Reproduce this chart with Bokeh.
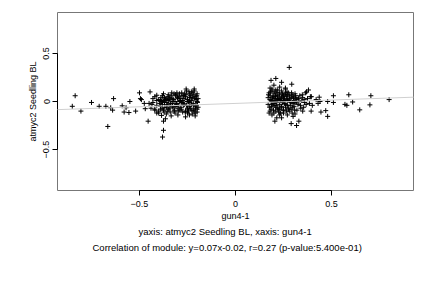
from bokeh.plotting import figure
from bokeh.models import Range1d, Slope, Title, FixedTicker
from bokeh.embed import file_html
from bokeh.resources import INLINE

# x values (gun4-1) and y values (atmyc2 Seedling BL)
gun4_1 = [
    # left sparse
    -0.85, -0.835, -0.805, -0.75, -0.71, -0.675, -0.65, -0.665, -0.64, -0.635,
    -0.59, -0.58, -0.57, -0.555, -0.55, -0.52, -0.50, -0.495, -0.49, -0.475,
    -0.47, -0.455, -0.445, -0.435, -0.42, -0.41, -0.40, -0.39, -0.385, -0.375,
    -0.375, -0.38, -0.257,
    # left dense
    -0.21, -0.22, -0.20, -0.23, -0.24, -0.25, -0.26, -0.21, -0.22, -0.20,
    -0.23, -0.24, -0.25, -0.27, -0.28, -0.29, -0.30, -0.31, -0.32, -0.33,
    -0.34, -0.35, -0.36, -0.37, -0.38, -0.39, -0.40, -0.41, -0.42, -0.43,
    -0.44, -0.20, -0.21, -0.22, -0.23, -0.24, -0.25, -0.26, -0.27, -0.28,
    -0.29, -0.30, -0.31, -0.32, -0.33, -0.34, -0.35, -0.36, -0.37, -0.38,
    -0.39, -0.40, -0.41, -0.42, -0.43, -0.45, -0.205, -0.215, -0.225, -0.235,
    -0.245, -0.255, -0.265, -0.275, -0.285, -0.295, -0.305, -0.315, -0.325, -0.335,
    -0.345, -0.355, -0.365, -0.375, -0.385, -0.395, -0.205, -0.215, -0.225, -0.235,
    -0.245, -0.255, -0.265, -0.275, -0.285, -0.295, -0.305, -0.315, -0.325, -0.335,
    -0.345, -0.355, -0.365, -0.375, -0.215, -0.195, -0.195, -0.20, -0.21, -0.26,
    -0.30, -0.24,
    -0.198, -0.202, -0.208, -0.212, -0.218, -0.222, -0.228, -0.232, -0.238, -0.242,
    -0.248, -0.252, -0.258, -0.262, -0.268, -0.272, -0.278, -0.282, -0.288, -0.292,
    -0.298, -0.302, -0.308, -0.312, -0.318, -0.322, -0.328, -0.332, -0.338, -0.342,
    -0.348, -0.352, -0.358, -0.362, -0.368, -0.372, -0.378, -0.382, -0.388, -0.41,
    # right dense
    0.18, 0.19, 0.20, 0.18, 0.21, 0.22, 0.19, 0.20, 0.21, 0.22,
    0.23, 0.24, 0.25, 0.18, 0.19, 0.20, 0.21, 0.22, 0.23, 0.24,
    0.25, 0.26, 0.27, 0.28, 0.29, 0.30, 0.31, 0.32, 0.17, 0.17,
    0.175, 0.185, 0.195, 0.205, 0.215, 0.225, 0.235, 0.245, 0.255, 0.265,
    0.275, 0.285, 0.295, 0.305, 0.315, 0.325, 0.335, 0.345, 0.355, 0.365,
    0.375, 0.385, 0.18, 0.19, 0.20, 0.21, 0.22, 0.23, 0.24, 0.25,
    0.26, 0.27, 0.28, 0.29, 0.30, 0.31, 0.33, 0.34, 0.35, 0.36,
    0.37, 0.38, 0.39, 0.40, 0.42, 0.175, 0.185, 0.195, 0.205, 0.215,
    0.225, 0.235, 0.245, 0.255, 0.265, 0.275, 0.285, 0.295, 0.305, 0.26,
    0.23, 0.20, 0.27, 0.32, 0.31, 0.35, 0.24,
    0.172, 0.178, 0.182, 0.188, 0.192, 0.198, 0.202, 0.208, 0.212, 0.218,
    0.222, 0.228, 0.232, 0.238, 0.242, 0.248, 0.252, 0.258, 0.262, 0.268,
    0.272, 0.278, 0.282, 0.288, 0.292, 0.298, 0.302, 0.308, 0.312, 0.318,
    0.328, 0.338, 0.348, 0.358, 0.368, 0.19, 0.21, 0.23, 0.25, 0.27,
    # right sparse
    0.28, 0.185, 0.21, 0.24, 0.293, 0.26, 0.205, 0.215, 0.29, 0.318,
    0.33, 0.30, 0.394, 0.445, 0.47, 0.48, 0.51, 0.51, 0.48, 0.44,
    0.436, 0.43, 0.395, 0.59, 0.61, 0.57, 0.58, 0.647, 0.705, 0.70,
    0.80,
]
atmyc2_seedling_bl = [
    # left sparse
    -0.05, 0.06, -0.10, -0.01, -0.05, -0.05, -0.065, -0.26, -0.09, 0.03,
    -0.045, -0.11, -0.065, -0.115, 0.00, -0.10, 0.09, 0.03, 0.02, -0.02,
    -0.075, -0.205, 0.10, -0.03, -0.09, 0.065, -0.12, 0.01, -0.145, -0.205,
    -0.30, -0.37, 0.13,
    # left dense
    0.05, -0.02, -0.08, 0.10, -0.05, 0.02, -0.10, -0.12, 0.07, 0.00,
    -0.03, 0.04, -0.07, 0.06, -0.01, -0.09, 0.03, -0.05, 0.08, -0.02,
    -0.11, 0.01, -0.06, 0.04, -0.03, -0.08, 0.02, -0.04, 0.05, -0.01,
    -0.07, 0.08, -0.05, -0.09, 0.01, 0.08, -0.12, 0.05, -0.04, 0.09,
    0.00, -0.07, 0.06, -0.10, 0.03, -0.04, 0.07, -0.13, -0.01, 0.06,
    -0.05, -0.10, 0.01, -0.08, 0.03, -0.02, 0.02, -0.10, 0.04, -0.07,
    0.00, 0.11, -0.03, 0.01, -0.06, 0.05, -0.02, -0.12, 0.00, 0.06,
    -0.07, -0.03, 0.02, -0.09, 0.00, -0.02, -0.04, 0.11, -0.13, 0.06,
    -0.10, -0.04, 0.08, -0.11, 0.03, -0.04, 0.09, 0.00, -0.06, -0.15,
    0.02, -0.10, -0.18, 0.08, 0.13, -0.06, 0.03, -0.11, -0.15, -0.16,
    -0.14, -0.14,
    -0.01, 0.06, -0.07, 0.03, -0.04, 0.09, -0.09, 0.04, -0.01, 0.10,
    -0.08, 0.00, 0.07, -0.11, 0.03, -0.02, 0.06, -0.08, 0.01, 0.08,
    -0.10, 0.04, -0.03, 0.07, -0.09, 0.02, -0.05, 0.09, -0.02, 0.04,
    -0.08, 0.05, -0.01, 0.03, -0.06, -0.11, 0.01, -0.07, 0.04, -0.12,
    # right dense
    0.02, -0.05, 0.08, -0.10, 0.00, -0.07, 0.11, -0.02, 0.05, 0.12,
    -0.03, 0.04, -0.09, 0.06, 0.00, -0.12, -0.06, 0.02, 0.07, -0.05,
    0.01, 0.09, -0.04, 0.03, -0.08, 0.05, -0.01, 0.02, -0.03, 0.04,
    0.09, -0.08, 0.05, -0.04, 0.09, -0.11, 0.01, 0.08, -0.02, 0.05,
    -0.07, 0.00, 0.07, -0.05, 0.04, -0.03, 0.06, 0.01, -0.06, 0.09,
    0.03, -0.02, 0.14, -0.14, 0.03, -0.10, 0.06, -0.08, 0.11, 0.06,
    -0.06, 0.02, -0.10, 0.04, -0.02, 0.08, 0.00, -0.07, 0.04, -0.01,
    0.10, 0.12, 0.05, -0.04, 0.02, -0.12, 0.01, -0.02, 0.10, -0.01,
    0.03, -0.12, -0.01, 0.03, -0.10, 0.09, -0.04, -0.12, 0.01, 0.13,
    0.15, 0.17, -0.14, -0.09, -0.13, -0.10, -0.17,
    0.07, -0.06, 0.10, -0.03, 0.04, -0.09, 0.01, 0.06, -0.04, 0.03,
    -0.08, 0.09, 0.02, -0.06, 0.05, -0.09, 0.00, 0.07, -0.03, 0.10,
    0.01, -0.08, 0.06, -0.01, 0.09, -0.06, 0.03, -0.09, 0.06, 0.00,
    0.03, -0.04, 0.07, 0.02, -0.03, 0.13, 0.12, -0.14, -0.12, 0.07,
    # right sparse
    0.355, 0.22, 0.24, 0.20, 0.18, 0.14, -0.205, -0.17, -0.23, -0.25,
    -0.205, -0.155, -0.10, -0.11, -0.095, -0.155, 0.06, -0.01, 0.00, 0.00,
    0.045, -0.02, 0.05, 0.07, -0.005, -0.03, -0.04, -0.087, 0.06, -0.035,
    0.02,
]
fit_slope = 0.07
fit_intercept = -0.02
x_ticks = [-0.5, 0.0, 0.5]
y_ticks = [-0.5, 0.0, 0.5]
x_label = "gun4-1"
y_label = "atmyc2 Seedling BL"
caption1 = "yaxis: atmyc2 Seedling BL, xaxis: gun4-1"
caption2 = "Correlation of module: y=0.07x-0.02, r=0.27 (p-value:5.400e-01)"

FONT = "Liberation Sans"

p = figure(width=432, height=288, output_backend="svg", toolbar_location=None,
           x_range=Range1d(-0.927, 0.927), y_range=Range1d(-0.927, 0.927),
           min_border_left=57, min_border_right=19, min_border_top=12,
           min_border_bottom=98)
p.background_fill_color = "white"
p.border_fill_color = "white"
p.outline_line_color = "#777777"
p.grid.visible = False

p.add_layout(Slope(gradient=fit_slope, y_intercept=fit_intercept,
                   line_color="#d0d0d0", line_width=1))
p.scatter(gun4_1, atmyc2_seedling_bl, marker="cross", size=5,
          line_color="black", line_width=1)

for ax, ticks in ((p.xaxis[0], x_ticks), (p.yaxis[0], y_ticks)):
    ax.ticker = FixedTicker(ticks=ticks)
    ax.bounds = (min(ticks), max(ticks))
    ax.minor_tick_line_color = None
    ax.major_tick_in = 0
    ax.major_tick_out = 5
    ax.axis_line_color = "black"
    ax.major_tick_line_color = "black"
    ax.major_label_text_font = FONT
    ax.major_label_text_font_size = "9px"
    ax.major_label_text_color = "black"
    ax.axis_label_text_font = FONT
    ax.axis_label_text_font_size = "9px"
    ax.axis_label_text_font_style = "normal"
    ax.axis_label_text_color = "black"
    ax.major_label_standoff = 5
    ax.axis_label_standoff = 1

p.xaxis[0].axis_label = x_label
p.yaxis[0].axis_label = y_label
p.yaxis[0].major_label_orientation = "vertical"
p.yaxis[0].major_label_standoff = 3
p.yaxis[0].axis_label_standoff = 3

for txt, so, off in ((caption1, 1, 81), (caption2, 4, 35)):
    t = Title(text=txt, align="left", text_font=FONT, text_font_size="9.5px",
              text_font_style="normal", text_color="black", standoff=so,
              offset=off)
    p.add_layout(t, "below")

open("out.html", "w").write(file_html(p, INLINE))
